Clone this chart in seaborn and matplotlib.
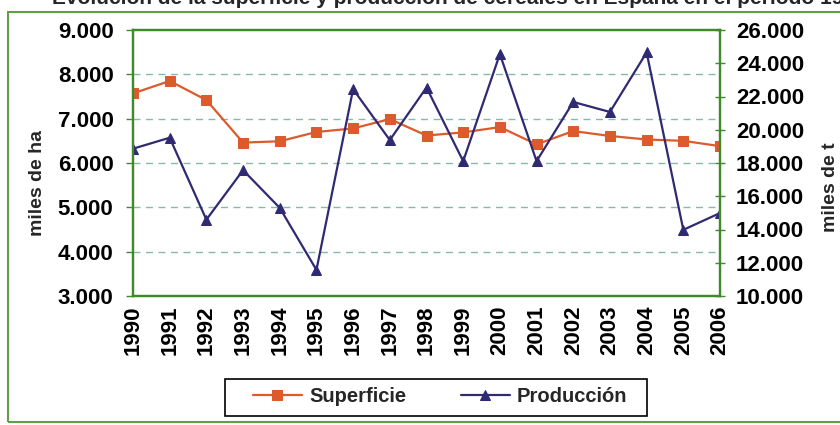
import matplotlib
matplotlib.use('Agg')
import matplotlib.pyplot as plt
import seaborn as sns
from matplotlib.patches import Rectangle
from matplotlib.ticker import FuncFormatter

sns.set_style('white')
plt.rcParams['font.family'] = ['Liberation Sans', 'DejaVu Sans']

years = list(range(1990, 2007))
# miles de ha
superficie = [7.57, 7.85, 7.42, 6.46, 6.49, 6.70, 6.78, 6.99, 6.62, 6.69,
              6.81, 6.42, 6.72, 6.61, 6.53, 6.50, 6.38]
# miles de t
produccion = [18.86, 19.52, 14.59, 17.57, 15.30, 11.57, 22.44, 19.38, 22.54, 18.11,
              24.55, 18.11, 21.67, 21.07, 24.65, 13.98, 14.99]
left_ticks = [3, 4, 5, 6, 7, 8, 9]
right_ticks = [10, 12, 14, 16, 18, 20, 22, 24, 26]

c_sup = '#dc5a2c'
c_prod = '#2f2a72'
c_frame = '#3f8a2a'
fs = 16

fmt = FuncFormatter(lambda v, p: f'{v:.3f}')

fig = plt.figure(figsize=(8.4, 4.25), dpi=100)
ax = fig.add_axes([133 / 840, 1 - 296 / 425, 587 / 840, 266 / 425])
ax2 = ax.twinx()

sns.lineplot(x=years, y=superficie, ax=ax, color=c_sup, lw=1.6, marker='s',
             markersize=8, markeredgecolor=c_sup, label='Superficie', legend=False)
sns.lineplot(x=years, y=produccion, ax=ax2, color=c_prod, lw=1.6, marker='^',
             markersize=10, markeredgecolor=c_prod, label='Producción', legend=False)

ax.set_xlim(1990, 2006)
ax.set_ylim(3, 9)
ax2.set_ylim(10, 26)
ax.set_yticks(left_ticks)
ax2.set_yticks(right_ticks)
ax.yaxis.set_major_formatter(fmt)
ax2.yaxis.set_major_formatter(fmt)
ax.set_xticks(years)
ax.set_xticklabels([str(y) for y in years], rotation=90)

for a in (ax, ax2):
    for s in a.spines.values():
        s.set_color(c_frame)
        s.set_linewidth(1.6)
    a.tick_params(labelsize=fs, colors=c_frame, labelcolor='black')
    for lab in a.get_yticklabels() + a.get_xticklabels():
        lab.set_fontweight('bold')

ax.tick_params(axis='y', direction='out', length=5, width=1, pad=9)
ax.tick_params(axis='x', direction='inout', length=7, width=1, pad=3)
ax2.tick_params(axis='y', direction='inout', length=7, width=1, pad=8)

ax.grid(False)
ax2.grid(False)
for v in left_ticks[1:-1]:
    ax.axhline(v, color='#86b8ad', lw=1, ls=(0, (5, 4)), zorder=0)

ax.set_ylabel('miles de ha', fontsize=14, fontweight='bold')
ax.yaxis.set_label_coords(-0.148, 0.425)
ax2.set_ylabel('miles de t', fontsize=14, fontweight='bold')
ax2.yaxis.set_label_coords(1.174, 0.41)

h1, l1 = ax.get_legend_handles_labels()
h2, l2 = ax2.get_legend_handles_labels()
for h in h1 + h2:
    h.set_markersize(7)
leg = fig.legend(h1 + h2, l1 + l2, loc='center', bbox_to_anchor=(440 / 840, 1 - 397 / 425),
                 ncol=2, frameon=False, handlelength=2.45, handletextpad=0.35,
                 columnspacing=2.7, borderpad=0.3,
                 prop={'weight': 'bold', 'size': 14.5})
fig.add_artist(Rectangle((225 / 840, 1 - 416 / 425), 422 / 840, 37 / 425,
                         transform=fig.transFigure, fill=False, edgecolor='black', lw=1.2))

fig.add_artist(Rectangle((8 / 840, 3 / 425), 1, 410 / 425, transform=fig.transFigure,
                         fill=False, edgecolor='#5f9f45', lw=1.5))
fig.text(52 / 840, 1 - 4 / 425,
         'Evolución de la superficie y producción de cereales en España en el período 1990-2006',
         fontsize=15, fontweight='bold', ha='left', va='baseline')

fig.savefig('out.png', dpi=100)
